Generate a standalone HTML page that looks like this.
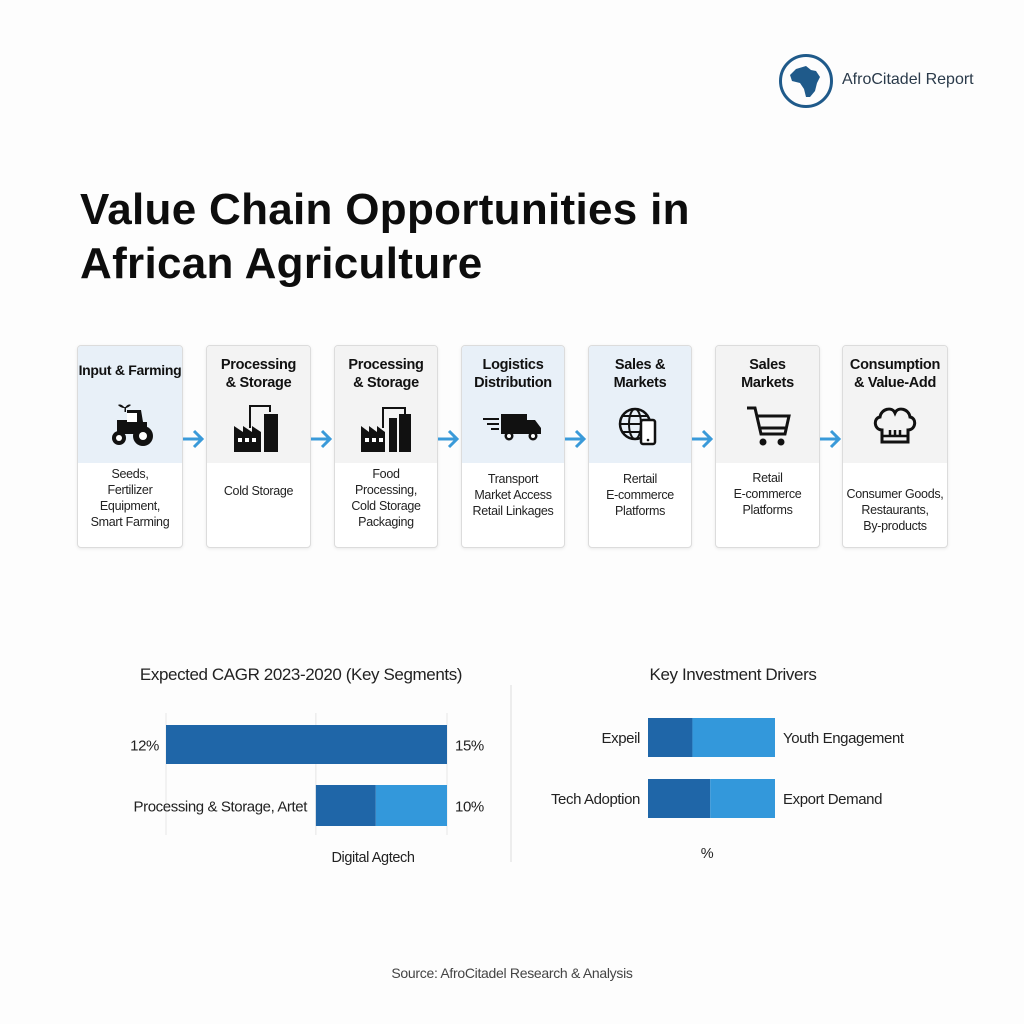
<!DOCTYPE html>
<html><head><meta charset="utf-8"><style>
body{margin:0;width:1024px;height:1024px;background:#fdfdfd;font-family:"Liberation Sans",sans-serif;position:relative;overflow:hidden;color:#111}
.abs{position:absolute}
.card{position:absolute;top:345px;height:201px;border:1px solid #dcdcdc;border-radius:4px;background:#fff;box-shadow:0 1px 3px rgba(0,0,0,.08);overflow:hidden}
.hd{position:absolute;left:0;right:0;top:0;height:117px}
.ttl{position:absolute;left:-10px;right:-10px;top:10px;text-align:center;font-weight:bold;font-size:14.5px;line-height:18px;white-space:nowrap;letter-spacing:-0.3px}
.ic{position:absolute;left:50%;top:52px;transform:translateX(-50%)}
.desc{position:absolute;left:-10px;right:-10px;text-align:center;font-size:12.5px;line-height:16px;color:#222;white-space:nowrap;letter-spacing:-0.3px}
.arr{position:absolute;top:427px}
</style></head><body>
<div class="abs" style="left:778px;top:53px">
<svg width="56" height="56" viewBox="0 0 56 56"><circle cx="28" cy="28" r="25.5" fill="none" stroke="#1f5a8a" stroke-width="3"/><path d="M18 16 L28 13 L33 17 L38 18 L42 24 L39 30 L37 38 L32 44 L28 44 L26 36 L22 30 L14 28 L12 22 Z" fill="#1f5a8a"/></svg></div>
<div class="abs" style="left:842px;top:71px;font-size:16px;color:#2a3a4a">AfroCitadel Report</div>
<div class="abs" style="left:80px;top:183px;font-size:44px;font-weight:bold;line-height:54px;color:#0d0d0d;letter-spacing:0.3px">Value Chain Opportunities in<br>African Agriculture</div>

<div class="card" style="left:77px;width:104px"><div class="hd" style="background:#e8f0f8"></div><div class="ttl" style="top:15px;font-size:14px">Input &amp; Farming</div>
<svg class="ic" width="54" height="54" viewBox="0 0 54 54"><path d="M14 22h10v-10h14l2 12h4v12H14z" fill="#111"/><rect x="24" y="15" width="10" height="9" fill="#fff"/><circle cx="16" cy="40" r="7" fill="#111"/><circle cx="16" cy="40" r="3" fill="#fff"/><circle cx="40" cy="38" r="10" fill="#111"/><circle cx="40" cy="38" r="4" fill="#fff"/><path d="M22 10c-3-4-6-4-7-3 2 2 4 3 7 3zM22 10c2-4 5-4 6-3-2 2-4 3-6 3z" fill="#111"/><rect x="21.5" y="9" width="1.5" height="5" fill="#111"/></svg>
<div class="desc" style="top:120px">Seeds,<br>Fertilizer<br>Equipment,<br>Smart Farming</div></div>

<div class="card" style="left:206px;width:103px"><div class="hd" style="background:#f3f3f3"></div><div class="ttl">Processing<br>&amp; Storage</div>
<svg class="ic" width="54" height="54" viewBox="0 0 54 54"><path d="M2 54V28l9 6v-6l9 6v-6l9 6v20z" fill="#111"/><rect x="6" y="40" width="4" height="4" fill="#fff"/><rect x="13" y="40" width="4" height="4" fill="#fff"/><rect x="20" y="40" width="4" height="4" fill="#fff"/><rect x="32" y="16" width="14" height="38" fill="#111"/><path d="M18 30V8h20v6" fill="none" stroke="#111" stroke-width="2"/></svg>
<div class="desc" style="top:137px">Cold Storage</div></div>

<div class="card" style="left:334px;width:102px"><div class="hd" style="background:#f3f3f3"></div><div class="ttl">Processing<br>&amp; Storage</div>
<svg class="ic" width="54" height="54" viewBox="0 0 54 54"><path d="M2 54V28l8 6v-6l8 6v-6l8 6v20z" fill="#111"/><rect x="6" y="40" width="4" height="4" fill="#fff"/><rect x="13" y="40" width="4" height="4" fill="#fff"/><rect x="20" y="40" width="4" height="4" fill="#fff"/><rect x="30" y="20" width="8" height="34" fill="#111"/><rect x="40" y="16" width="12" height="38" fill="#111"/><path d="M24 30V10h22v6" fill="none" stroke="#111" stroke-width="2"/></svg>
<div class="desc" style="top:120px">Food<br>Processing,<br>Cold Storage<br>Packaging</div></div>

<div class="card" style="left:461px;width:102px"><div class="hd" style="background:#e8f0f8"></div><div class="ttl">Logistics<br>Distribution</div>
<svg class="ic" width="64" height="54" viewBox="0 0 64 54"><rect x="20" y="16" width="26" height="20" fill="#111"/><path d="M46 22h8l6 8v6H46z" fill="#111"/><rect x="2" y="20" width="16" height="2" fill="#111"/><rect x="6" y="25" width="12" height="2" fill="#111"/><rect x="10" y="30" width="8" height="2" fill="#111"/><circle cx="28" cy="38" r="4.5" fill="#111"/><circle cx="28" cy="38" r="2" fill="#fff"/><circle cx="52" cy="38" r="4.5" fill="#111"/><circle cx="52" cy="38" r="2" fill="#fff"/></svg>
<div class="desc" style="top:125px">Transport<br>Market Access<br>Retail Linkages</div></div>

<div class="card" style="left:588px;width:102px"><div class="hd" style="background:#e8f0f8"></div><div class="ttl">Sales &amp;<br>Markets</div>
<svg class="ic" width="54" height="54" viewBox="0 0 54 54"><circle cx="22" cy="26" r="15" fill="none" stroke="#111" stroke-width="2.5"/><ellipse cx="22" cy="26" rx="6" ry="15" fill="none" stroke="#111" stroke-width="2"/><path d="M7 26h30M10 18h24M10 34h24" stroke="#111" stroke-width="2"/><rect x="28" y="22" width="14" height="24" rx="2" fill="#fff" stroke="#111" stroke-width="2.5"/><circle cx="35" cy="42" r="1.3" fill="#111"/></svg>
<div class="desc" style="top:125px">Rertail<br>E-commerce<br>Platforms</div></div>

<div class="card" style="left:715px;width:103px"><div class="hd" style="background:#f3f3f3"></div><div class="ttl">Sales<br>Markets</div>
<svg class="ic" width="54" height="54" viewBox="0 0 54 54"><path d="M6 10h8l6 26h24l4-18H16" fill="none" stroke="#111" stroke-width="3"/><path d="M20 30h24" stroke="#111" stroke-width="3"/><circle cx="22" cy="44" r="3.5" fill="#111"/><circle cx="40" cy="44" r="3.5" fill="#111"/></svg>
<div class="desc" style="top:124px">Retail<br>E-commerce<br>Platforms</div></div>

<div class="card" style="left:842px;width:104px"><div class="hd" style="background:#f3f3f3"></div><div class="ttl">Consumption<br>&amp; Value-Add</div>
<svg class="ic" width="54" height="54" viewBox="0 0 54 54"><path d="M14 32c-8 0-9-12-2-13 1-8 12-11 15-4 3-7 14-4 15 4 7 1 6 13-2 13v12H14z" fill="none" stroke="#111" stroke-width="3"/><path d="M14 38h26M22 32v6M27 32v6M32 32v6" stroke="#111" stroke-width="2.5"/></svg>
<div class="desc" style="top:140px">Consumer Goods,<br>Restaurants,<br>By-products</div></div>

<svg class="arr" style="left:181px" width="24" height="24" viewBox="0 0 24 24"><path d="M2 12h18M13 4l8 8-8 8" fill="none" stroke="#3a9ad9" stroke-width="3"/></svg>
<svg class="arr" style="left:309px" width="24" height="24" viewBox="0 0 24 24"><path d="M2 12h18M13 4l8 8-8 8" fill="none" stroke="#3a9ad9" stroke-width="3"/></svg>
<svg class="arr" style="left:436px" width="24" height="24" viewBox="0 0 24 24"><path d="M2 12h18M13 4l8 8-8 8" fill="none" stroke="#3a9ad9" stroke-width="3"/></svg>
<svg class="arr" style="left:563px" width="24" height="24" viewBox="0 0 24 24"><path d="M2 12h18M13 4l8 8-8 8" fill="none" stroke="#3a9ad9" stroke-width="3"/></svg>
<svg class="arr" style="left:690px" width="24" height="24" viewBox="0 0 24 24"><path d="M2 12h18M13 4l8 8-8 8" fill="none" stroke="#3a9ad9" stroke-width="3"/></svg>
<svg class="arr" style="left:818px" width="24" height="24" viewBox="0 0 24 24"><path d="M2 12h18M13 4l8 8-8 8" fill="none" stroke="#3a9ad9" stroke-width="3"/></svg>

<svg class="abs" style="left:0;top:640px;letter-spacing:-0.4px" width="1024" height="260">
<g id="left"></g><g id="right"></g>
<line x1="511" y1="45" x2="511" y2="222" stroke="#ddd"/>
<text x="301" y="40" text-anchor="middle" font-size="17" fill="#222">Expected CAGR 2023-2020 (Key Segments)</text>
<text x="733" y="40" text-anchor="middle" font-size="17" fill="#222">Key Investment Drivers</text>
<text x="373" y="222" text-anchor="middle" font-size="14.5" fill="#222">Digital Agtech</text>
<text x="707" y="218" text-anchor="middle" font-size="14.5" fill="#222">%</text>
</svg>
<div class="abs" style="left:0;width:1024px;top:965px;text-align:center;font-size:14px;color:#444;letter-spacing:-0.3px">Source: AfroCitadel Research &amp; Analysis</div>
<script>
// Left chart data (CAGR %)
const cagrLabelsLeft=["12%","Processing & Storage, Artet"];
const cagrLabelsRight=["15%","10%"];
const cagrStart=[0,8];
const cagrMid=[15,11.2];
const cagrEnd=[15,15];
// Right chart data (%)
const driverLabelsLeft=["Expeil","Tech Adoption"];
const driverLabelsRight=["Youth Engagement","Export Demand"];
const driverDark=[35,49];
const driverTotal=[100,100];
const NS="http://www.w3.org/2000/svg";
function mk(p,t,a,txt){const e=document.createElementNS(NS,t);for(const k in a)e.setAttribute(k,a[k]);if(txt)e.textContent=txt;p.appendChild(e);return e;}
const xL=v=>166+v*(447-166)/15;
const yL=i=>85+i*60;
const gl=document.getElementById('left');
[0,8,15].forEach(v=>{const l=mk(gl,'line',{x1:xL(v),x2:xL(v),y1:yL(0)-12,y2:yL(1)+50,stroke:'#e6e6e6'});

});
cagrStart.forEach((s,i)=>{
 const h=i==0?39:41;
 const r1=mk(gl,'rect',{x:xL(s),y:yL(i),width:xL(cagrMid[i])-xL(s),height:h,fill:'#1f66a8'});
 
 
 if(cagrEnd[i]>cagrMid[i]){const r2=mk(gl,'rect',{x:xL(cagrMid[i]),y:yL(i),width:xL(cagrEnd[i])-xL(cagrMid[i]),height:h,fill:'#3398db'});
 
 }
 const t1=mk(gl,'text',{x:i==0?159:307,y:yL(i)+h/2+6,'text-anchor':'end','font-size':15,fill:'#222'},cagrLabelsLeft[i]);
 
 
 const t2=mk(gl,'text',{x:xL(cagrEnd[i])+8,y:yL(i)+h/2+6,'font-size':15,fill:'#222'},cagrLabelsRight[i]);
 
 
});
const xR=v=>648+v*(775-648)/100;
const yR=i=>78+i*61;
const gr=document.getElementById('right');
driverDark.forEach((d,i)=>{
 const r1=mk(gr,'rect',{x:xR(0),y:yR(i),width:xR(d)-xR(0),height:39,fill:'#1f66a8'});
 
 
 const r2=mk(gr,'rect',{x:xR(d),y:yR(i),width:xR(driverTotal[i])-xR(d),height:39,fill:'#3398db'});
 
 
 const t1=mk(gr,'text',{x:640,y:yR(i)+25,'text-anchor':'end','font-size':15,fill:'#222'},driverLabelsLeft[i]);
 
 
 const t2=mk(gr,'text',{x:xR(driverTotal[i])+8,y:yR(i)+25,'font-size':15,fill:'#222'},driverLabelsRight[i]);
 
 
});
</script>
</body></html>
